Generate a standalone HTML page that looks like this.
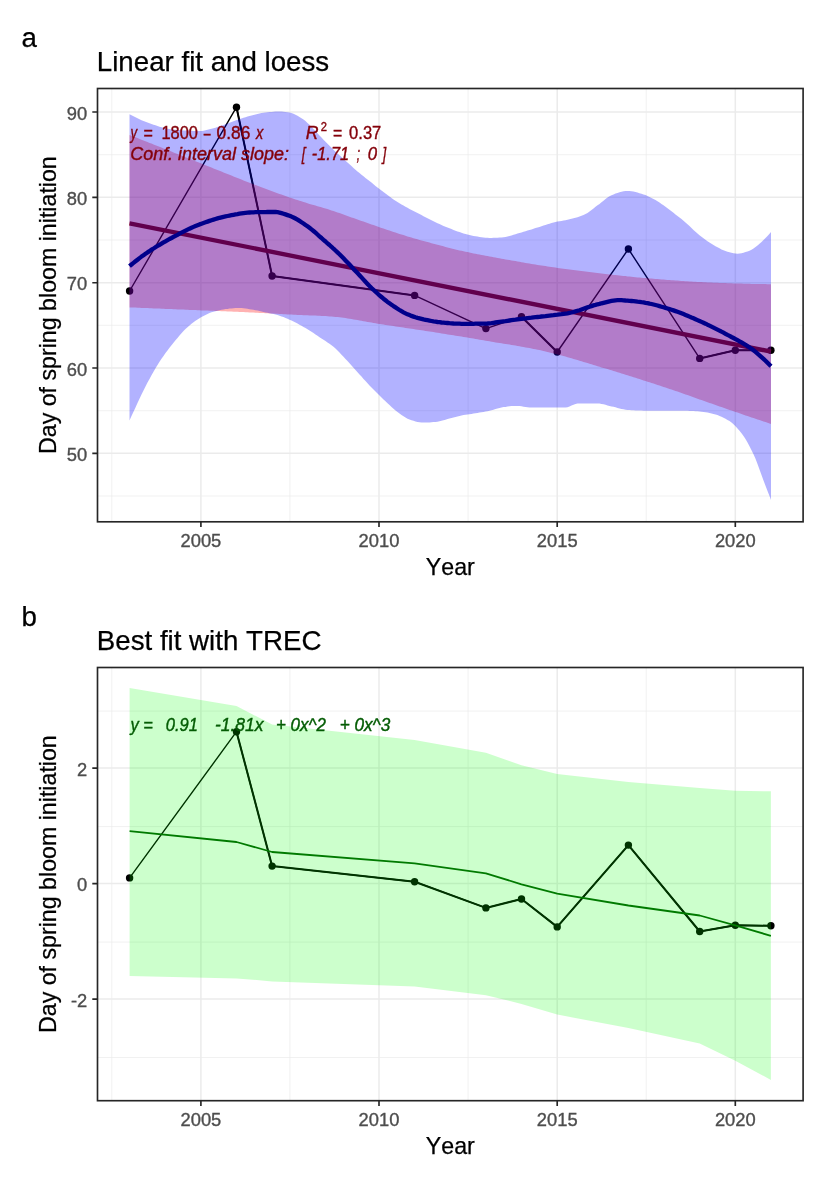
<!DOCTYPE html>
<html lang="en"><head><meta charset="utf-8"><title>Spring bloom initiation trends</title>
<style>
html,body{margin:0;padding:0;background:#fff}
body{width:826px;height:1181px;overflow:hidden}
svg{display:block}
text{font-family:"Liberation Sans",Arial,sans-serif;font-kerning:none}
.tick{font-size:18.33px;fill:#4d4d4d;stroke:#4d4d4d;stroke-width:.35}
.axt{font-size:23.2px;fill:#000;stroke:#000;stroke-width:.25}
.ttl{font-size:27.7px;fill:#000;stroke:#000;stroke-width:.25}
.ann{font-size:17.8px}
.it{font-style:italic}
.gM{stroke:#ebebeb;stroke-width:1.5;fill:none}
.gm{stroke:#ebebeb;stroke-width:0.7;fill:none}
.ax{stroke:#262626;stroke-width:1.65;fill:none}
</style></head><body>
<svg width="826" height="1181" viewBox="0 0 826 1181">
<rect width="826" height="1181" fill="#fff"/>
<defs>
<clipPath id="ca"><rect x="97.5" y="88.5" width="705.6" height="433.29999999999995"/></clipPath>
<clipPath id="cb"><rect x="97.5" y="667.5" width="705.6" height="433.20000000000005"/></clipPath>
</defs>
<!-- panel a -->
<text class="ttl" x="21.4" y="47.1">a</text>
<text class="ttl" x="96.8" y="70.6">Linear fit and loess</text>
<path class="gm" d="M97.5,154.7H803.1M97.5,240.0H803.1M97.5,325.3H803.1M97.5,410.7H803.1M97.5,496.0H803.1M111.8,88.5V521.8M289.9,88.5V521.8M468.1,88.5V521.8M646.2,88.5V521.8"/>
<path class="gM" d="M97.5,112.0H803.1M97.5,197.3H803.1M97.5,282.7H803.1M97.5,368.0H803.1M97.5,453.3H803.1M200.9,88.5V521.8M379.0,88.5V521.8M557.2,88.5V521.8M735.3,88.5V521.8"/>
<g clip-path="url(#ca)">
<polyline points="129.6,291.0 236.5,107.2 272.1,276.0 414.6,295.4 485.9,328.6 521.5,316.8 557.2,352.0 628.4,249.0 699.7,358.4 735.3,350.3 770.9,350.3" fill="none" stroke="#000" stroke-width="1.4" stroke-linejoin="round"/>
<polyline points="236.5,107.2 272.1,276.0 414.6,295.4" fill="none" stroke="#000" stroke-width="2.0" stroke-linejoin="round"/>
<polyline points="521.5,316.8 557.2,352.0" fill="none" stroke="#000" stroke-width="2.0" stroke-linejoin="round"/>
<polyline points="699.7,358.4 735.3,350.3 770.9,350.3" fill="none" stroke="#000" stroke-width="2.0" stroke-linejoin="round"/>
<circle cx="129.6" cy="291.0" r="3.7" fill="#000"/>
<circle cx="236.5" cy="107.2" r="3.7" fill="#000"/>
<circle cx="272.1" cy="276.0" r="3.7" fill="#000"/>
<circle cx="414.6" cy="295.4" r="3.7" fill="#000"/>
<circle cx="485.9" cy="328.6" r="3.7" fill="#000"/>
<circle cx="521.5" cy="316.8" r="3.7" fill="#000"/>
<circle cx="557.2" cy="352.0" r="3.7" fill="#000"/>
<circle cx="628.4" cy="249.0" r="3.7" fill="#000"/>
<circle cx="699.7" cy="358.4" r="3.7" fill="#000"/>
<circle cx="735.3" cy="350.3" r="3.7" fill="#000"/>
<circle cx="770.9" cy="350.3" r="3.7" fill="#000"/>
<polygon points="129.5,135.0 131.5,135.8 133.5,136.6 135.5,137.3 137.5,138.1 139.5,138.9 141.5,139.7 143.5,140.5 145.5,141.3 147.5,142.1 149.5,142.9 151.5,143.6 153.5,144.4 155.5,145.2 157.5,146.0 159.5,146.8 161.5,147.6 163.5,148.4 165.5,149.2 167.5,150.0 169.5,150.8 171.5,151.6 173.5,152.4 175.5,153.2 177.5,154.0 179.5,154.8 181.5,155.6 183.5,156.4 185.5,157.2 187.5,158.0 189.5,158.8 191.5,159.6 193.5,160.4 195.5,161.2 197.5,162.0 199.5,162.8 201.5,163.6 203.5,164.4 205.5,165.2 207.5,166.0 209.5,166.8 211.5,167.6 213.5,168.4 215.5,169.2 217.5,170.0 219.5,170.8 221.5,171.6 223.5,172.4 225.5,173.2 227.5,174.0 229.5,174.8 231.5,175.6 233.5,176.4 235.5,177.2 237.5,178.0 239.5,178.8 241.5,179.6 243.5,180.4 245.5,181.2 247.5,182.0 249.5,182.8 251.5,183.5 253.5,184.3 255.5,185.1 257.5,185.8 259.5,186.6 261.5,187.3 263.5,188.1 265.5,188.8 267.5,189.6 269.5,190.3 271.5,191.0 273.5,191.8 275.5,192.5 277.5,193.2 279.5,193.9 281.5,194.6 283.5,195.3 285.5,196.0 287.5,196.7 289.5,197.4 291.5,198.0 293.5,198.7 295.5,199.4 297.5,200.0 299.5,200.7 301.5,201.3 303.5,202.0 305.5,202.6 307.5,203.2 309.5,203.9 311.5,204.4 313.5,205.0 315.5,205.6 317.5,206.2 319.5,206.8 321.5,207.3 323.5,207.9 325.5,208.5 327.5,209.1 329.5,209.7 331.5,210.4 333.5,211.0 335.5,211.7 337.5,212.4 339.5,213.1 341.5,213.8 343.5,214.5 345.5,215.2 347.5,216.0 349.5,216.7 351.5,217.4 353.5,218.1 355.5,218.8 357.5,219.5 359.5,220.2 361.5,220.9 363.5,221.6 365.5,222.3 367.5,223.0 369.5,223.7 371.5,224.4 373.5,225.1 375.5,225.8 377.5,226.5 379.5,227.2 381.5,227.9 383.5,228.6 385.5,229.2 387.5,229.9 389.5,230.6 391.5,231.2 393.5,231.9 395.5,232.6 397.5,233.2 399.5,233.9 401.5,234.5 403.5,235.1 405.5,235.8 407.5,236.4 409.5,237.0 411.5,237.6 413.5,238.2 415.5,238.7 417.5,239.3 419.5,239.9 421.5,240.4 423.5,241.0 425.5,241.5 427.5,242.1 429.5,242.6 431.5,243.2 433.5,243.7 435.5,244.2 437.5,244.8 439.5,245.3 441.5,245.8 443.5,246.3 445.5,246.9 447.5,247.4 449.5,247.9 451.5,248.4 453.5,248.9 455.5,249.4 457.5,249.9 459.5,250.4 461.5,250.8 463.5,251.3 465.5,251.7 467.5,252.1 469.5,252.6 471.5,253.0 473.5,253.4 475.5,253.8 477.5,254.2 479.5,254.5 481.5,254.9 483.5,255.3 485.5,255.7 487.5,256.1 489.5,256.4 491.5,256.8 493.5,257.2 495.5,257.6 497.5,257.9 499.5,258.3 501.5,258.7 503.5,259.0 505.5,259.4 507.5,259.7 509.5,260.1 511.5,260.4 513.5,260.8 515.5,261.1 517.5,261.5 519.5,261.8 521.5,262.2 523.5,262.5 525.5,262.9 527.5,263.2 529.5,263.6 531.5,263.9 533.5,264.3 535.5,264.6 537.5,264.9 539.5,265.2 541.5,265.5 543.5,265.8 545.5,266.1 547.5,266.4 549.5,266.7 551.5,267.0 553.5,267.3 555.5,267.6 557.5,267.9 559.5,268.2 561.5,268.4 563.5,268.7 565.5,269.0 567.5,269.3 569.5,269.5 571.5,269.8 573.5,270.1 575.5,270.3 577.5,270.6 579.5,270.8 581.5,271.1 583.5,271.3 585.5,271.6 587.5,271.8 589.5,272.1 591.5,272.3 593.5,272.6 595.5,272.8 597.5,273.0 599.5,273.3 601.5,273.5 603.5,273.7 605.5,273.9 607.5,274.2 609.5,274.4 611.5,274.6 613.5,274.9 615.5,275.1 617.5,275.3 619.5,275.5 621.5,275.7 623.5,275.9 625.5,276.1 627.5,276.4 629.5,276.6 631.5,276.8 633.5,277.0 635.5,277.2 637.5,277.4 639.5,277.5 641.5,277.7 643.5,277.9 645.5,278.1 647.5,278.3 649.5,278.5 651.5,278.6 653.5,278.8 655.5,278.9 657.5,279.1 659.5,279.3 661.5,279.4 663.5,279.6 665.5,279.7 667.5,279.9 669.5,280.0 671.5,280.2 673.5,280.3 675.5,280.5 677.5,280.6 679.5,280.8 681.5,280.9 683.5,281.0 685.5,281.2 687.5,281.3 689.5,281.4 691.5,281.5 693.5,281.7 695.5,281.8 697.5,281.9 699.5,282.0 701.5,282.1 703.5,282.2 705.5,282.3 707.5,282.4 709.5,282.5 711.5,282.6 713.5,282.7 715.5,282.7 717.5,282.8 719.5,282.9 721.5,283.0 723.5,283.0 725.5,283.1 727.5,283.2 729.5,283.2 731.5,283.3 733.5,283.4 735.5,283.4 737.5,283.5 739.5,283.6 741.5,283.6 743.5,283.7 745.5,283.7 747.5,283.8 749.5,283.8 751.5,283.9 753.5,283.9 755.5,284.0 757.5,284.0 759.5,284.1 761.5,284.1 763.5,284.1 765.5,284.1 767.5,284.2 769.5,284.2 771.0,284.2 771.0,423.9 769.5,423.4 767.5,422.7 765.5,422.1 763.5,421.4 761.5,420.7 759.5,420.1 757.5,419.4 755.5,418.7 753.5,418.0 751.5,417.4 749.5,416.7 747.5,416.0 745.5,415.4 743.5,414.7 741.5,414.0 739.5,413.3 737.5,412.6 735.5,412.0 733.5,411.3 731.5,410.6 729.5,409.9 727.5,409.2 725.5,408.5 723.5,407.8 721.5,407.1 719.5,406.4 717.5,405.7 715.5,405.0 713.5,404.3 711.5,403.6 709.5,402.9 707.5,402.2 705.5,401.5 703.5,400.8 701.5,400.1 699.5,399.4 697.5,398.7 695.5,397.9 693.5,397.2 691.5,396.5 689.5,395.8 687.5,395.1 685.5,394.4 683.5,393.7 681.5,393.0 679.5,392.3 677.5,391.6 675.5,390.9 673.5,390.3 671.5,389.6 669.5,388.9 667.5,388.2 665.5,387.6 663.5,386.9 661.5,386.2 659.5,385.6 657.5,384.9 655.5,384.3 653.5,383.6 651.5,383.0 649.5,382.3 647.5,381.7 645.5,381.0 643.5,380.4 641.5,379.7 639.5,379.1 637.5,378.4 635.5,377.8 633.5,377.2 631.5,376.5 629.5,375.9 627.5,375.3 625.5,374.7 623.5,374.0 621.5,373.4 619.5,372.8 617.5,372.2 615.5,371.6 613.5,371.0 611.5,370.3 609.5,369.7 607.5,369.1 605.5,368.5 603.5,367.9 601.5,367.4 599.5,366.8 597.5,366.2 595.5,365.6 593.5,364.9 591.5,364.3 589.5,363.7 587.5,363.1 585.5,362.5 583.5,361.9 581.5,361.3 579.5,360.7 577.5,360.1 575.5,359.5 573.5,358.9 571.5,358.3 569.5,357.8 567.5,357.2 565.5,356.6 563.5,356.1 561.5,355.5 559.5,355.0 557.5,354.4 555.5,353.9 553.5,353.4 551.5,352.9 549.5,352.4 547.5,351.9 545.5,351.4 543.5,351.0 541.5,350.5 539.5,350.1 537.5,349.7 535.5,349.3 533.5,348.9 531.5,348.5 529.5,348.1 527.5,347.7 525.5,347.4 523.5,347.0 521.5,346.7 519.5,346.3 517.5,346.0 515.5,345.6 513.5,345.3 511.5,345.0 509.5,344.6 507.5,344.3 505.5,344.0 503.5,343.7 501.5,343.3 499.5,343.0 497.5,342.7 495.5,342.4 493.5,342.0 491.5,341.7 489.5,341.3 487.5,341.0 485.5,340.7 483.5,340.3 481.5,340.0 479.5,339.7 477.5,339.3 475.5,339.0 473.5,338.6 471.5,338.3 469.5,338.0 467.5,337.6 465.5,337.3 463.5,337.0 461.5,336.6 459.5,336.3 457.5,336.0 455.5,335.7 453.5,335.3 451.5,335.0 449.5,334.7 447.5,334.4 445.5,334.0 443.5,333.7 441.5,333.4 439.5,333.1 437.5,332.8 435.5,332.4 433.5,332.1 431.5,331.8 429.5,331.5 427.5,331.2 425.5,330.9 423.5,330.6 421.5,330.3 419.5,330.0 417.5,329.7 415.5,329.4 413.5,329.1 411.5,328.8 409.5,328.5 407.5,328.2 405.5,327.9 403.5,327.6 401.5,327.3 399.5,327.0 397.5,326.7 395.5,326.4 393.5,326.1 391.5,325.8 389.5,325.5 387.5,325.2 385.5,324.9 383.5,324.6 381.5,324.3 379.5,324.0 377.5,323.7 375.5,323.3 373.5,323.0 371.5,322.6 369.5,322.3 367.5,321.9 365.5,321.5 363.5,321.2 361.5,320.8 359.5,320.4 357.5,320.1 355.5,319.7 353.5,319.4 351.5,319.1 349.5,318.7 347.5,318.4 345.5,318.1 343.5,317.8 341.5,317.6 339.5,317.3 337.5,317.1 335.5,316.9 333.5,316.7 331.5,316.5 329.5,316.4 327.5,316.2 325.5,316.1 323.5,316.0 321.5,315.9 319.5,315.8 317.5,315.7 315.5,315.6 313.5,315.6 311.5,315.5 309.5,315.4 307.5,315.3 305.5,315.2 303.5,315.2 301.5,315.1 299.5,315.0 297.5,314.9 295.5,314.8 293.5,314.7 291.5,314.6 289.5,314.5 287.5,314.4 285.5,314.3 283.5,314.2 281.5,314.1 279.5,314.0 277.5,313.8 275.5,313.7 273.5,313.6 271.5,313.5 269.5,313.4 267.5,313.3 265.5,313.2 263.5,313.1 261.5,313.0 259.5,312.9 257.5,312.8 255.5,312.7 253.5,312.6 251.5,312.5 249.5,312.4 247.5,312.3 245.5,312.2 243.5,312.1 241.5,312.0 239.5,311.9 237.5,311.8 235.5,311.7 233.5,311.7 231.5,311.6 229.5,311.5 227.5,311.4 225.5,311.3 223.5,311.2 221.5,311.2 219.5,311.1 217.5,311.0 215.5,310.9 213.5,310.8 211.5,310.8 209.5,310.7 207.5,310.6 205.5,310.5 203.5,310.4 201.5,310.4 199.5,310.3 197.5,310.2 195.5,310.1 193.5,310.0 191.5,310.0 189.5,309.9 187.5,309.8 185.5,309.7 183.5,309.6 181.5,309.6 179.5,309.5 177.5,309.4 175.5,309.3 173.5,309.2 171.5,309.1 169.5,309.1 167.5,309.0 165.5,308.9 163.5,308.8 161.5,308.7 159.5,308.6 157.5,308.6 155.5,308.5 153.5,308.4 151.5,308.3 149.5,308.2 147.5,308.1 145.5,308.1 143.5,308.0 141.5,307.9 139.5,307.8 137.5,307.7 135.5,307.6 133.5,307.6 131.5,307.5 129.5,307.4" fill="#ff0000" fill-opacity="0.3"/>
<polyline points="129.5,223.4 771.0,351.6" fill="none" stroke="#8b0000" stroke-width="4.3"/>
<polygon points="129.5,114.2 131.5,115.3 133.5,116.3 135.5,117.3 137.5,118.3 139.5,119.3 141.5,120.2 143.5,121.0 145.5,121.8 147.5,122.5 149.5,123.2 151.5,124.0 153.5,124.7 155.5,125.3 157.5,126.0 159.5,126.7 161.5,127.2 163.5,127.8 165.5,128.3 167.5,128.7 169.5,129.1 171.5,129.4 173.5,129.6 175.5,129.8 177.5,130.0 179.5,130.1 181.5,130.3 183.5,130.4 185.5,130.5 187.5,130.6 189.5,130.7 191.5,130.8 193.5,130.9 195.5,131.0 197.5,131.0 199.5,131.0 201.5,130.9 203.5,130.7 205.5,130.3 207.5,129.8 209.5,129.3 211.5,128.7 213.5,128.2 215.5,127.7 217.5,127.0 219.5,126.3 221.5,125.6 223.5,124.9 225.5,124.2 227.5,123.4 229.5,122.7 231.5,122.0 233.5,121.3 235.5,120.5 237.5,119.8 239.5,119.1 241.5,118.5 243.5,117.8 245.5,117.2 247.5,116.6 249.5,116.0 251.5,115.4 253.5,114.9 255.5,114.4 257.5,113.9 259.5,113.5 261.5,113.1 263.5,112.7 265.5,112.4 267.5,112.2 269.5,112.0 271.5,111.9 273.5,111.7 275.5,111.6 277.5,111.5 279.5,111.5 281.5,111.5 283.5,111.7 285.5,112.0 287.5,112.3 289.5,112.6 291.5,113.1 293.5,113.8 295.5,114.8 297.5,115.8 299.5,116.9 301.5,118.2 303.5,119.6 305.5,121.1 307.5,122.9 309.5,124.8 311.5,126.9 313.5,129.0 315.5,131.1 317.5,133.3 319.5,135.5 321.5,137.6 323.5,139.7 325.5,141.7 327.5,143.7 329.5,145.7 331.5,147.8 333.5,149.8 335.5,151.7 337.5,153.5 339.5,155.3 341.5,157.1 343.5,158.9 345.5,160.7 347.5,162.5 349.5,164.3 351.5,166.1 353.5,168.0 355.5,169.7 357.5,171.5 359.5,173.1 361.5,174.7 363.5,176.3 365.5,177.9 367.5,179.5 369.5,181.1 371.5,182.6 373.5,184.2 375.5,185.9 377.5,187.5 379.5,189.1 381.5,190.6 383.5,192.1 385.5,193.6 387.5,195.1 389.5,196.6 391.5,198.0 393.5,199.4 395.5,200.7 397.5,202.0 399.5,203.2 401.5,204.4 403.5,205.5 405.5,206.7 407.5,207.8 409.5,208.9 411.5,210.0 413.5,211.0 415.5,212.1 417.5,213.1 419.5,214.1 421.5,215.1 423.5,216.2 425.5,217.2 427.5,218.2 429.5,219.2 431.5,220.3 433.5,221.3 435.5,222.2 437.5,223.2 439.5,224.1 441.5,225.0 443.5,225.9 445.5,226.7 447.5,227.5 449.5,228.3 451.5,229.1 453.5,229.9 455.5,230.7 457.5,231.4 459.5,232.1 461.5,232.8 463.5,233.4 465.5,234.0 467.5,234.5 469.5,235.0 471.5,235.5 473.5,236.0 475.5,236.3 477.5,236.6 479.5,236.9 481.5,237.2 483.5,237.5 485.5,237.7 487.5,237.8 489.5,237.9 491.5,237.9 493.5,237.8 495.5,237.8 497.5,237.7 499.5,237.6 501.5,237.4 503.5,237.3 505.5,237.0 507.5,236.5 509.5,236.0 511.5,235.4 513.5,234.8 515.5,234.2 517.5,233.6 519.5,233.0 521.5,232.4 523.5,231.8 525.5,231.2 527.5,230.6 529.5,230.0 531.5,229.4 533.5,228.7 535.5,228.1 537.5,227.5 539.5,226.9 541.5,226.2 543.5,225.6 545.5,224.9 547.5,224.3 549.5,223.7 551.5,223.1 553.5,222.5 555.5,222.1 557.5,221.6 559.5,221.3 561.5,220.9 563.5,220.5 565.5,220.2 567.5,219.7 569.5,219.3 571.5,218.8 573.5,218.3 575.5,217.8 577.5,217.2 579.5,216.5 581.5,215.8 583.5,215.0 585.5,214.1 587.5,212.9 589.5,211.5 591.5,210.0 593.5,208.4 595.5,206.8 597.5,205.3 599.5,203.9 601.5,202.3 603.5,200.7 605.5,199.1 607.5,197.6 609.5,196.3 611.5,195.2 613.5,194.4 615.5,193.6 617.5,192.9 619.5,192.2 621.5,191.7 623.5,191.2 625.5,191.0 627.5,190.9 629.5,191.0 631.5,191.3 633.5,191.6 635.5,192.1 637.5,192.6 639.5,193.2 641.5,193.7 643.5,194.4 645.5,195.1 647.5,196.0 649.5,196.9 651.5,197.9 653.5,199.0 655.5,200.1 657.5,201.3 659.5,202.5 661.5,203.9 663.5,205.3 665.5,206.8 667.5,208.3 669.5,209.8 671.5,211.3 673.5,212.8 675.5,214.4 677.5,215.9 679.5,217.5 681.5,219.1 683.5,220.8 685.5,222.5 687.5,224.2 689.5,226.1 691.5,228.0 693.5,229.9 695.5,231.7 697.5,233.5 699.5,235.2 701.5,236.7 703.5,238.3 705.5,239.8 707.5,241.2 709.5,242.6 711.5,243.8 713.5,245.0 715.5,246.2 717.5,247.3 719.5,248.3 721.5,249.4 723.5,250.3 725.5,251.1 727.5,251.8 729.5,252.3 731.5,252.8 733.5,253.3 735.5,253.6 737.5,253.7 739.5,253.6 741.5,253.3 743.5,252.8 745.5,252.1 747.5,251.4 749.5,250.7 751.5,249.7 753.5,248.5 755.5,247.0 757.5,245.4 759.5,243.7 761.5,242.0 763.5,240.1 765.5,238.1 767.5,236.0 769.5,233.7 771.0,231.9 771.0,500.0 769.5,496.1 767.5,490.9 765.5,485.7 763.5,480.5 761.5,475.1 759.5,469.5 757.5,464.0 755.5,458.8 753.5,454.3 751.5,450.2 749.5,446.3 747.5,442.6 745.5,439.1 743.5,436.0 741.5,433.3 739.5,430.8 737.5,428.5 735.5,426.3 733.5,424.3 731.5,422.6 729.5,421.1 727.5,419.9 725.5,418.7 723.5,417.7 721.5,416.7 719.5,415.9 717.5,415.1 715.5,414.4 713.5,413.9 711.5,413.4 709.5,413.0 707.5,412.6 705.5,412.3 703.5,411.9 701.5,411.7 699.5,411.5 697.5,411.3 695.5,411.2 693.5,411.1 691.5,411.0 689.5,410.9 687.5,410.8 685.5,410.7 683.5,410.7 681.5,410.7 679.5,410.7 677.5,410.7 675.5,410.7 673.5,410.7 671.5,410.7 669.5,410.7 667.5,410.7 665.5,410.7 663.5,410.7 661.5,410.7 659.5,410.7 657.5,410.7 655.5,410.7 653.5,410.7 651.5,410.7 649.5,410.7 647.5,410.7 645.5,410.7 643.5,410.7 641.5,410.6 639.5,410.6 637.5,410.5 635.5,410.4 633.5,410.3 631.5,410.2 629.5,410.1 627.5,410.0 625.5,409.7 623.5,409.3 621.5,408.9 619.5,408.4 617.5,407.9 615.5,407.3 613.5,406.8 611.5,406.4 609.5,405.9 607.5,405.4 605.5,404.8 603.5,404.3 601.5,403.9 599.5,403.6 597.5,403.4 595.5,403.4 593.5,403.4 591.5,403.4 589.5,403.4 587.5,403.4 585.5,403.5 583.5,403.5 581.5,403.5 579.5,403.6 577.5,403.6 575.5,404.0 573.5,404.7 571.5,405.6 569.5,406.5 567.5,407.2 565.5,407.5 563.5,407.5 561.5,407.5 559.5,407.5 557.5,407.6 555.5,407.6 553.5,407.6 551.5,407.6 549.5,407.6 547.5,407.6 545.5,407.6 543.5,407.6 541.5,407.6 539.5,407.6 537.5,407.6 535.5,407.6 533.5,407.5 531.5,407.5 529.5,407.4 527.5,407.2 525.5,407.0 523.5,406.7 521.5,406.3 519.5,406.1 517.5,405.9 515.5,405.9 513.5,406.0 511.5,406.1 509.5,406.3 507.5,406.6 505.5,406.9 503.5,407.1 501.5,407.5 499.5,408.0 497.5,408.5 495.5,409.1 493.5,409.7 491.5,410.3 489.5,410.8 487.5,411.2 485.5,411.6 483.5,411.9 481.5,412.3 479.5,412.6 477.5,412.9 475.5,413.3 473.5,413.6 471.5,413.9 469.5,414.2 467.5,414.5 465.5,414.8 463.5,415.1 461.5,415.5 459.5,416.0 457.5,416.5 455.5,417.0 453.5,417.5 451.5,418.0 449.5,418.5 447.5,419.1 445.5,419.7 443.5,420.3 441.5,420.8 439.5,421.3 437.5,421.7 435.5,421.9 433.5,422.1 431.5,422.2 429.5,422.4 427.5,422.5 425.5,422.6 423.5,422.6 421.5,422.5 419.5,422.3 417.5,421.9 415.5,421.4 413.5,420.8 411.5,420.2 409.5,419.6 407.5,418.7 405.5,417.6 403.5,416.3 401.5,414.9 399.5,413.4 397.5,411.9 395.5,410.4 393.5,408.7 391.5,407.0 389.5,405.1 387.5,403.2 385.5,401.3 383.5,399.4 381.5,397.5 379.5,395.5 377.5,393.6 375.5,391.6 373.5,389.5 371.5,387.5 369.5,385.4 367.5,383.2 365.5,381.1 363.5,378.9 361.5,376.6 359.5,374.4 357.5,372.2 355.5,370.0 353.5,367.8 351.5,365.5 349.5,363.3 347.5,361.1 345.5,358.9 343.5,356.8 341.5,354.7 339.5,352.6 337.5,350.6 335.5,348.6 333.5,346.8 331.5,345.2 329.5,343.8 327.5,342.4 325.5,341.1 323.5,339.8 321.5,338.5 319.5,337.2 317.5,335.8 315.5,334.5 313.5,333.1 311.5,331.8 309.5,330.5 307.5,329.3 305.5,328.1 303.5,326.9 301.5,325.8 299.5,324.7 297.5,323.6 295.5,322.6 293.5,321.6 291.5,320.6 289.5,319.7 287.5,318.8 285.5,317.9 283.5,317.1 281.5,316.4 279.5,315.7 277.5,315.1 275.5,314.6 273.5,314.1 271.5,313.7 269.5,313.3 267.5,312.8 265.5,312.4 263.5,311.9 261.5,311.5 259.5,311.0 257.5,310.6 255.5,310.2 253.5,309.8 251.5,309.5 249.5,309.2 247.5,308.8 245.5,308.5 243.5,308.2 241.5,308.0 239.5,307.9 237.5,307.9 235.5,308.0 233.5,308.2 231.5,308.4 229.5,308.6 227.5,308.9 225.5,309.1 223.5,309.4 221.5,309.8 219.5,310.2 217.5,310.7 215.5,311.2 213.5,311.7 211.5,312.3 209.5,313.1 207.5,314.0 205.5,314.9 203.5,316.0 201.5,317.1 199.5,318.2 197.5,319.5 195.5,320.8 193.5,322.3 191.5,323.8 189.5,325.5 187.5,327.2 185.5,329.0 183.5,331.0 181.5,333.2 179.5,335.5 177.5,337.9 175.5,340.3 173.5,342.8 171.5,345.2 169.5,347.8 167.5,350.4 165.5,353.1 163.5,355.9 161.5,358.8 159.5,361.8 157.5,364.9 155.5,368.2 153.5,371.7 151.5,375.2 149.5,378.9 147.5,382.6 145.5,386.4 143.5,390.4 141.5,394.6 139.5,398.8 137.5,403.1 135.5,407.4 133.5,411.7 131.5,416.1 129.5,420.5" fill="#0000ff" fill-opacity="0.3"/>
<polyline points="129.5,266.2 131.5,264.5 133.5,262.9 135.5,261.3 137.5,259.7 139.5,258.1 141.5,256.6 143.5,255.2 145.5,253.8 147.5,252.4 149.5,251.1 151.5,249.7 153.5,248.5 155.5,247.2 157.5,246.0 159.5,244.8 161.5,243.6 163.5,242.4 165.5,241.3 167.5,240.2 169.5,239.0 171.5,238.0 173.5,236.9 175.5,235.8 177.5,234.8 179.5,233.7 181.5,232.7 183.5,231.7 185.5,230.7 187.5,229.7 189.5,228.7 191.5,227.8 193.5,226.9 195.5,226.0 197.5,225.2 199.5,224.4 201.5,223.7 203.5,223.0 205.5,222.3 207.5,221.6 209.5,220.9 211.5,220.2 213.5,219.6 215.5,219.0 217.5,218.4 219.5,217.8 221.5,217.3 223.5,216.8 225.5,216.4 227.5,216.0 229.5,215.6 231.5,215.2 233.5,214.8 235.5,214.4 237.5,214.1 239.5,213.7 241.5,213.4 243.5,213.1 245.5,212.9 247.5,212.7 249.5,212.5 251.5,212.4 253.5,212.3 255.5,212.2 257.5,212.2 259.5,212.2 261.5,212.1 263.5,212.1 265.5,212.1 267.5,212.0 269.5,212.0 271.5,212.0 273.5,212.0 275.5,212.0 277.5,212.2 279.5,212.6 281.5,213.1 283.5,213.7 285.5,214.4 287.5,215.1 289.5,215.8 291.5,216.6 293.5,217.5 295.5,218.5 297.5,219.6 299.5,220.9 301.5,222.2 303.5,223.5 305.5,224.9 307.5,226.3 309.5,227.8 311.5,229.4 313.5,231.0 315.5,232.7 317.5,234.5 319.5,236.3 321.5,238.0 323.5,239.8 325.5,241.5 327.5,243.3 329.5,245.0 331.5,246.8 333.5,248.7 335.5,250.5 337.5,252.4 339.5,254.3 341.5,256.3 343.5,258.3 345.5,260.4 347.5,262.5 349.5,264.6 351.5,266.7 353.5,268.9 355.5,271.0 357.5,273.1 359.5,275.2 361.5,277.4 363.5,279.6 365.5,281.8 367.5,283.9 369.5,286.0 371.5,288.0 373.5,289.8 375.5,291.7 377.5,293.5 379.5,295.3 381.5,297.0 383.5,298.7 385.5,300.3 387.5,301.9 389.5,303.3 391.5,304.7 393.5,306.1 395.5,307.4 397.5,308.7 399.5,310.0 401.5,311.2 403.5,312.3 405.5,313.3 407.5,314.3 409.5,315.1 411.5,315.9 413.5,316.6 415.5,317.3 417.5,317.9 419.5,318.4 421.5,318.9 423.5,319.4 425.5,319.8 427.5,320.2 429.5,320.6 431.5,321.0 433.5,321.4 435.5,321.7 437.5,322.0 439.5,322.2 441.5,322.5 443.5,322.6 445.5,322.8 447.5,323.0 449.5,323.2 451.5,323.3 453.5,323.5 455.5,323.6 457.5,323.7 459.5,323.7 461.5,323.8 463.5,323.8 465.5,323.8 467.5,323.8 469.5,323.8 471.5,323.8 473.5,323.8 475.5,323.7 477.5,323.7 479.5,323.7 481.5,323.7 483.5,323.6 485.5,323.6 487.5,323.5 489.5,323.3 491.5,323.1 493.5,322.8 495.5,322.5 497.5,322.2 499.5,321.9 501.5,321.6 503.5,321.3 505.5,321.1 507.5,320.8 509.5,320.5 511.5,320.2 513.5,319.9 515.5,319.7 517.5,319.4 519.5,319.1 521.5,318.8 523.5,318.6 525.5,318.4 527.5,318.1 529.5,317.9 531.5,317.7 533.5,317.4 535.5,317.2 537.5,317.0 539.5,316.8 541.5,316.5 543.5,316.3 545.5,316.1 547.5,315.8 549.5,315.6 551.5,315.4 553.5,315.2 555.5,314.9 557.5,314.7 559.5,314.4 561.5,314.2 563.5,313.9 565.5,313.6 567.5,313.3 569.5,312.9 571.5,312.5 573.5,312.0 575.5,311.4 577.5,310.8 579.5,310.2 581.5,309.5 583.5,308.8 585.5,308.1 587.5,307.4 589.5,306.7 591.5,306.1 593.5,305.4 595.5,304.9 597.5,304.3 599.5,303.9 601.5,303.3 603.5,302.8 605.5,302.3 607.5,301.8 609.5,301.3 611.5,300.9 613.5,300.6 615.5,300.3 617.5,300.2 619.5,300.2 621.5,300.2 623.5,300.3 625.5,300.5 627.5,300.6 629.5,300.8 631.5,301.0 633.5,301.2 635.5,301.4 637.5,301.7 639.5,301.9 641.5,302.2 643.5,302.4 645.5,302.8 647.5,303.1 649.5,303.6 651.5,304.0 653.5,304.5 655.5,305.0 657.5,305.5 659.5,306.1 661.5,306.7 663.5,307.3 665.5,307.9 667.5,308.5 669.5,309.1 671.5,309.7 673.5,310.4 675.5,311.1 677.5,311.8 679.5,312.5 681.5,313.3 683.5,314.1 685.5,314.9 687.5,315.7 689.5,316.6 691.5,317.5 693.5,318.3 695.5,319.2 697.5,320.1 699.5,321.0 701.5,321.9 703.5,322.8 705.5,323.7 707.5,324.7 709.5,325.6 711.5,326.6 713.5,327.6 715.5,328.6 717.5,329.6 719.5,330.6 721.5,331.7 723.5,332.7 725.5,333.8 727.5,334.9 729.5,335.9 731.5,337.0 733.5,338.0 735.5,339.1 737.5,340.2 739.5,341.3 741.5,342.4 743.5,343.6 745.5,344.8 747.5,346.1 749.5,347.4 751.5,348.8 753.5,350.3 755.5,351.9 757.5,353.6 759.5,355.3 761.5,357.1 763.5,358.9 765.5,360.8 767.5,362.8 769.5,364.8 771.0,366.3" fill="none" stroke="#00008b" stroke-width="4.3" stroke-linejoin="round"/>
</g>
<g class="ann" fill="#84000a" stroke="#84000a" stroke-width="0.4">
<text class="it" x="130.45" y="138.7" font-size="17.8px" textLength="6.56" lengthAdjust="spacingAndGlyphs">y</text>
<text x="143.60" y="138.7" font-size="17.8px" textLength="9.38" lengthAdjust="spacingAndGlyphs">=</text>
<text x="161.40" y="138.7" font-size="17.8px" textLength="36.49" lengthAdjust="spacingAndGlyphs">1800</text>
<text x="203.80" y="138.7" font-size="17.8px" textLength="6.78" lengthAdjust="spacingAndGlyphs">–</text>
<text x="216.50" y="138.7" font-size="17.8px" textLength="33.88" lengthAdjust="spacingAndGlyphs">0.86</text>
<text class="it" x="256.12" y="138.7" font-size="17.8px" textLength="7.25" lengthAdjust="spacingAndGlyphs">x</text>
<text class="it" x="305.80" y="138.7" font-size="17.8px" textLength="12.79" lengthAdjust="spacingAndGlyphs">R</text>
<text x="333.00" y="138.7" font-size="17.8px" textLength="9.28" lengthAdjust="spacingAndGlyphs">=</text>
<text x="349.10" y="138.7" font-size="17.8px" textLength="32.18" lengthAdjust="spacingAndGlyphs">0.37</text>
<text x="320.80" y="131.2" font-size="12.4px" textLength="6.21" lengthAdjust="spacingAndGlyphs">2</text>
<text class="it" x="130.20" y="160.0" font-size="18.2px" textLength="158.71" lengthAdjust="spacingAndGlyphs">Conf. interval slope:</text>
<text class="it" x="301.87" y="160.0" font-size="18.2px" textLength="3.70" lengthAdjust="spacingAndGlyphs">[</text>
<text class="it" x="311.80" y="160.0" font-size="18.2px" textLength="37.29" lengthAdjust="spacingAndGlyphs">-1.71</text>
<text class="it" x="356.70" y="160.0" font-size="18.2px" textLength="3.30" lengthAdjust="spacingAndGlyphs">;</text>
<text class="it" x="367.70" y="160.0" font-size="18.2px" textLength="9.32" lengthAdjust="spacingAndGlyphs">0</text>
<text class="it" x="382.43" y="160.0" font-size="18.2px" textLength="3.70" lengthAdjust="spacingAndGlyphs">]</text>
</g>
<path class="ax" d="M92.3,112.0H97.5M92.3,197.3H97.5M92.3,282.7H97.5M92.3,368.0H97.5M92.3,453.3H97.5M200.9,521.8V527.0M379.0,521.8V527.0M557.2,521.8V527.0M735.3,521.8V527.0"/>
<rect class="ax" x="97.5" y="88.5" width="705.6" height="433.3"/>
<text class="tick" text-anchor="end" x="87.2" y="119.6">90</text>
<text class="tick" text-anchor="end" x="87.2" y="204.9">80</text>
<text class="tick" text-anchor="end" x="87.2" y="290.3">70</text>
<text class="tick" text-anchor="end" x="87.2" y="375.6">60</text>
<text class="tick" text-anchor="end" x="87.2" y="460.9">50</text>
<text class="tick" text-anchor="middle" x="200.9" y="546.9">2005</text>
<text class="tick" text-anchor="middle" x="379.0" y="546.9">2010</text>
<text class="tick" text-anchor="middle" x="557.2" y="546.9">2015</text>
<text class="tick" text-anchor="middle" x="735.3" y="546.9">2020</text>
<text class="axt" text-anchor="middle" x="450.3" y="574.6">Year</text>
<text class="axt" text-anchor="middle" transform="translate(56.3,305.1) rotate(-90)">Day of spring bloom initiation</text>
<!-- panel b -->
<text class="ttl" x="21.4" y="626.1">b</text>
<text class="ttl" x="96.8" y="649.6">Best fit with TREC</text>
<path class="gm" d="M97.5,711.1H803.1M97.5,826.6H803.1M97.5,942.1H803.1M97.5,1057.5H803.1M111.8,667.5V1100.7M289.9,667.5V1100.7M468.1,667.5V1100.7M646.2,667.5V1100.7"/>
<path class="gM" d="M97.5,768.1H803.1M97.5,883.6H803.1M97.5,999.1H803.1M200.9,667.5V1100.7M379.0,667.5V1100.7M557.2,667.5V1100.7M735.3,667.5V1100.7"/>
<g clip-path="url(#cb)">
<polyline points="129.6,877.9 236.5,731.7 272.1,866.1 414.6,881.7 485.9,907.9 521.5,899.0 557.2,926.9 628.4,845.1 699.7,931.5 735.3,925.2 770.9,925.8" fill="none" stroke="#000" stroke-width="1.4" stroke-linejoin="round"/>
<polyline points="236.5,731.7 272.1,866.1 414.6,881.7 485.9,907.9 521.5,899.0 557.2,926.9 628.4,845.1 699.7,931.5 735.3,925.2 770.9,925.8" fill="none" stroke="#000" stroke-width="2.05" stroke-linejoin="round"/>
<circle cx="129.6" cy="877.9" r="3.7" fill="#000"/>
<circle cx="236.5" cy="731.7" r="3.7" fill="#000"/>
<circle cx="272.1" cy="866.1" r="3.7" fill="#000"/>
<circle cx="414.6" cy="881.7" r="3.7" fill="#000"/>
<circle cx="485.9" cy="907.9" r="3.7" fill="#000"/>
<circle cx="521.5" cy="899.0" r="3.7" fill="#000"/>
<circle cx="557.2" cy="926.9" r="3.7" fill="#000"/>
<circle cx="628.4" cy="845.1" r="3.7" fill="#000"/>
<circle cx="699.7" cy="931.5" r="3.7" fill="#000"/>
<circle cx="735.3" cy="925.2" r="3.7" fill="#000"/>
<circle cx="770.9" cy="925.8" r="3.7" fill="#000"/>
<polygon points="129.6,687.9 236.5,706.0 272.1,724.5 414.6,740.0 485.9,752.7 521.5,765.3 557.2,774.0 628.4,781.9 699.7,788.1 735.3,790.7 770.9,791.3 770.9,1079.9 735.3,1060.7 699.7,1043.4 628.4,1027.9 557.2,1014.6 521.5,1003.9 485.9,995.2 414.6,986.6 272.1,981.4 236.5,978.4 129.6,976.1" fill="#00ff00" fill-opacity="0.2"/>
<polyline points="129.6,831.1 236.5,842.0 272.1,852.0 414.6,863.4 485.9,873.4 521.5,884.3 557.2,893.7 628.4,905.5 699.7,915.5 735.3,925.4 770.9,935.8" fill="none" stroke="#007a00" stroke-width="1.8" stroke-linejoin="round"/>
</g>
<g class="ann" fill="#045c04" stroke="#045c04" stroke-width="0.4">
<text class="it" x="130.45" y="730.9" font-size="18.0px" textLength="22.44" lengthAdjust="spacingAndGlyphs">y =</text>
<text class="it" x="165.80" y="730.9" font-size="18.0px" textLength="32.18" lengthAdjust="spacingAndGlyphs">0.91</text>
<text class="it" x="214.90" y="730.9" font-size="18.0px" textLength="48.66" lengthAdjust="spacingAndGlyphs">-1.81x</text>
<text class="it" x="275.90" y="730.9" font-size="18.0px" textLength="49.92" lengthAdjust="spacingAndGlyphs">+ 0x^2</text>
<text class="it" x="339.70" y="730.9" font-size="18.0px" textLength="50.52" lengthAdjust="spacingAndGlyphs">+ 0x^3</text>
</g>
<path class="ax" d="M92.3,768.1H97.5M92.3,883.6H97.5M92.3,999.1H97.5M200.9,1100.7V1105.9M379.0,1100.7V1105.9M557.2,1100.7V1105.9M735.3,1100.7V1105.9"/>
<rect class="ax" x="97.5" y="667.5" width="705.6" height="433.2"/>
<text class="tick" text-anchor="end" x="87.2" y="775.7">2</text>
<text class="tick" text-anchor="end" x="87.2" y="891.2">0</text>
<text class="tick" text-anchor="end" x="87.2" y="1006.7">-2</text>
<text class="tick" text-anchor="middle" x="200.9" y="1125.8">2005</text>
<text class="tick" text-anchor="middle" x="379.0" y="1125.8">2010</text>
<text class="tick" text-anchor="middle" x="557.2" y="1125.8">2015</text>
<text class="tick" text-anchor="middle" x="735.3" y="1125.8">2020</text>
<text class="axt" text-anchor="middle" x="450.3" y="1153.5">Year</text>
<text class="axt" text-anchor="middle" transform="translate(56.3,884.1) rotate(-90)">Day of spring bloom initiation</text>
</svg>
</body></html>
